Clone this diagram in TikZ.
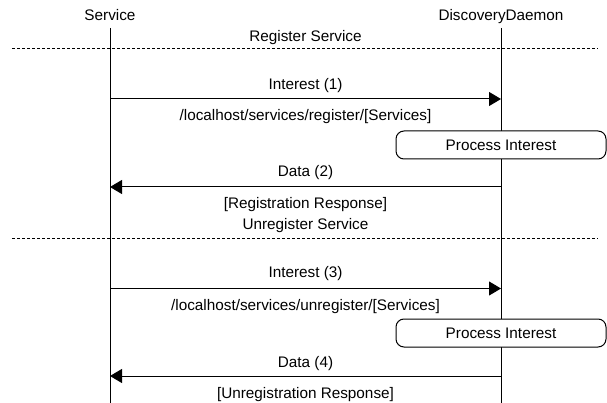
\documentclass[tikz,border=0pt]{standalone}
\usepackage{fontspec}
\setmainfont{Liberation Sans}
\usetikzlibrary{arrows.meta}

\begin{document}
\begin{tikzpicture}[x=1pt,y=-1pt,
    every node/.style={font=\fontsize{15.3}{18}\selectfont,inner sep=0pt},
    txt/.style={anchor=base},
    lifeline/.style={line width=1pt},
    msg/.style={line width=1pt,-{Triangle[length=12pt,width=14pt]}},
    sep/.style={line width=0.8pt,dash pattern=on 3pt off 2pt},
    proc/.style={draw,line width=1pt,fill=white,rounded corners=8pt,
      minimum width=210pt,minimum height=28pt}]
  \useasboundingbox (0,0) rectangle (607,403);
  % participants and lifelines
  \node[txt] (svc) at (110,20.5) {Service};
  \node[txt] (dmn) at (501,20.5) {DiscoveryDaemon};
  \coordinate (svcend) at (110,403);
  \coordinate (dmnend) at (501,403);
  \draw[lifeline] ([yshift=-7.5pt]svc.base) -- (svcend);
  \draw[lifeline] ([yshift=-7.5pt]dmn.base) -- (dmnend);
  % register
  \node[txt] (reg) at (305.5,41.5) {Register Service};
  \draw[sep] (12,48) -- (598,48);
  \coordinate (s1) at (110,99);
  \coordinate (d1) at (501,99);
  \draw[msg] (s1) -- (d1)
    node[midway,txt,yshift=9.5pt] (int1) {Interest (1)}
    node[midway,txt,yshift=-21.5pt] (name1) {/localhost/services/register/[Services]};
  \node[proc] (proc1) at (501,145) {Process Interest};
  \coordinate (d2) at (501,187);
  \coordinate (s2) at (110,187);
  \draw[msg] (d2) -- (s2)
    node[midway,txt,yshift=10.5pt] (dat2) {Data (2)}
    node[midway,txt,yshift=-21.5pt] (resp2) {[Registration Response]};
  % unregister
  \node[txt] (unreg) at (305.5,229.5) {Unregister Service};
  \draw[sep] (12,238) -- (598,238);
  \coordinate (s3) at (110,288.5);
  \coordinate (d3) at (501,288.5);
  \draw[msg] (s3) -- (d3)
    node[midway,txt,yshift=11pt] (int3) {Interest (3)}
    node[midway,txt,yshift=-22pt] (name3) {/localhost/services/unregister/[Services]};
  \node[proc] (proc2) at (501,333) {Process Interest};
  \coordinate (d4) at (501,376);
  \coordinate (s4) at (110,376);
  \draw[msg] (d4) -- (s4)
    node[midway,txt,yshift=8.5pt] (dat4) {Data (4)}
    node[midway,txt,yshift=-22.5pt] (resp4) {[Unregistration Response]};
\end{tikzpicture}
\end{document}
